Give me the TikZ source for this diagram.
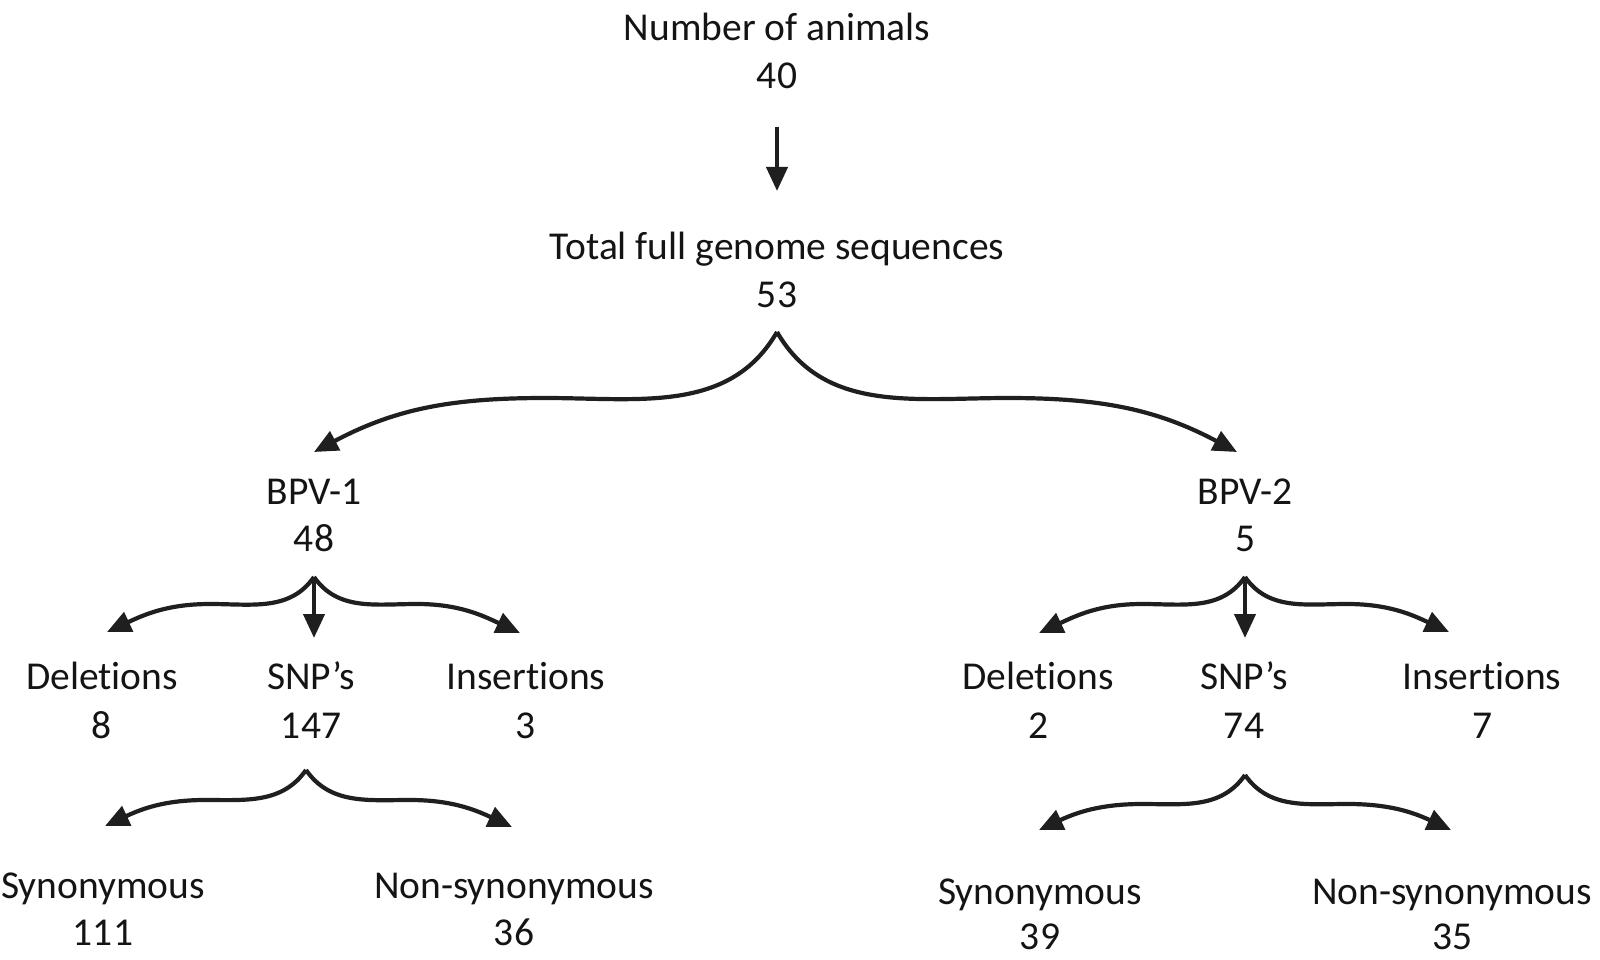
\documentclass[tikz,border=0pt]{standalone}
\usepackage{fontspec}
\setmainfont{Carlito}[Ligatures=NoCommon]
\usetikzlibrary{arrows.meta}
\newcommand{\tisep}{\kern0pt }
\begin{document}
\begin{tikzpicture}[x=1pt,y=-1pt,
  lbl/.style={anchor=base,inner sep=0pt,font=\fontsize{39.5}{47}\selectfont,text=black!92},
  arr/.style={line width=4.2pt,draw=black!88,-{Triangle[length=24pt,width=21pt]}}]
\useasboundingbox (0,0) rectangle (1600,960);
% texts
\node[lbl] (n1) at (777,41) {Number of animals};
\node[lbl] (n1v) at (777,89) {40};
\node[lbl] (n2) at (777,259) {Total full genome sequences};
\node[lbl] (n2v) at (777,307) {53};
\node[lbl] (b1) at (314,504) {BPV-1};
\node[lbl] (b1v) at (314,551) {48};
\node[lbl] (b2) at (1245,504) {BPV-2};
\node[lbl] (b2v) at (1245,551) {5};
\node[lbl] (d1) at (102,689) {Delet\tisep ions};
\node[lbl] (d1v) at (102,738) {8};
\node[lbl] (s1) at (311,689) {SNP’s};
\node[lbl] (s1v) at (311,738) {147};
\node[lbl] (i1) at (526,689) {Insert\tisep ions};
\node[lbl] (i1v) at (526,738) {3};
\node[lbl] (d2) at (1038,689) {Delet\tisep ions};
\node[lbl] (d2v) at (1038,738) {2};
\node[lbl] (s2) at (1244,689) {SNP’s};
\node[lbl] (s2v) at (1244,738) {74};
\node[lbl] (i2) at (1482,689) {Insert\tisep ions};
\node[lbl] (i2v) at (1482,738) {7};
\node[lbl] (y1) at (103,898) {Synonymous};
\node[lbl] (y1v) at (103,945) {111};
\node[lbl] (ns1) at (514,898) {Non-synonymous};
\node[lbl] (ns1v) at (514,945) {36};
\node[lbl] (y2) at (1040,904) {Synonymous};
\node[lbl] (y2v) at (1040,949) {39};
\node[lbl] (ns2) at (1452,904) {Non-synonymous};
\node[lbl] (ns2v) at (1452,949) {35};
% coordinates
\coordinate (a0s) at (777,127);
\coordinate (a0e) at (777,191);
\coordinate (ap1) at (777,332);
\coordinate (m1l) at (545,398);
\coordinate (t1l) at (314,452);
\coordinate (m1r) at (1008,398);
\coordinate (t1r) at (1237,452);
\coordinate (ap2) at (314,577);
\coordinate (m2l) at (210,604);
\coordinate (t2l) at (107,632);
\coordinate (t2d) at (314,638);
\coordinate (m2r) at (417,604);
\coordinate (t2r) at (520,633);
\coordinate (ap3) at (1245,577);
\coordinate (m3l) at (1142,604);
\coordinate (t3l) at (1039,633);
\coordinate (t3d) at (1245,638);
\coordinate (m3r) at (1347,604);
\coordinate (t3r) at (1449,632);
\coordinate (ap4) at (306,770);
\coordinate (m4l) at (205,800);
\coordinate (t4l) at (105,826);
\coordinate (m4r) at (410,800);
\coordinate (t4r) at (512,827);
\coordinate (ap5) at (1245,775);
\coordinate (m5l) at (1142,804);
\coordinate (t5l) at (1039,830);
\coordinate (m5r) at (1348,804);
\coordinate (t5r) at (1451,830);
% arrows
\draw[arr] (a0s) -- (a0e);
\draw[arr] (ap1) to[out=-120,in=0] (m1l) to[out=180,in=28] (t1l);
\draw[arr] (ap1) to[out=-60,in=180] (m1r) to[out=0,in=152] (t1r);
\foreach \k in {2,3}{
  \draw[arr] (ap\k) to[out=-125,in=0] (m\k l) to[out=180,in=25] (t\k l);
  \draw[arr] (ap\k) to[out=-55,in=180] (m\k r) to[out=0,in=155] (t\k r);
  \draw[arr] (ap\k) -- (t\k d);
}
\foreach \k in {4,5}{
  \draw[arr] (ap\k) to[out=-125,in=0] (m\k l) to[out=180,in=25] (t\k l);
  \draw[arr] (ap\k) to[out=-55,in=180] (m\k r) to[out=0,in=155] (t\k r);
}
\end{tikzpicture}
\end{document}
